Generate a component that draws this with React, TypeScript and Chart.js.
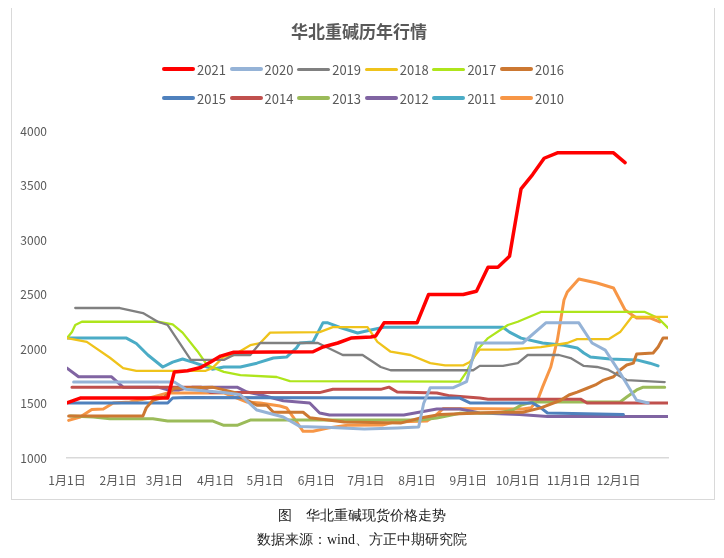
import React, { useEffect, useRef } from "react";
import { Chart, registerables } from "chart.js";

Chart.register(...registerables);

const FONT = '"Noto Sans CJK SC", "Noto Sans", sans-serif';
const TEXT_COLOR = "#595959";

const monthTicks = [0, 31, 59, 90, 120, 151, 181, 212, 243, 273, 304, 334];
const monthLabels = ["1月1日", "2月1日", "3月1日", "4月1日", "5月1日", "6月1日", "7月1日", "8月1日", "9月1日", "10月1日", "11月1日", "12月1日"];

const seriesNames = ["2021", "2020", "2019", "2018", "2017", "2016", "2015", "2014", "2013", "2012", "2011", "2010"];
const seriesColors = ["#FF0000", "#95B3D7", "#808080", "#EFC31B", "#AEE51C", "#CC7832", "#4F81BD", "#C0504D", "#9BBB59", "#8064A2", "#4BACC6", "#F79646"];
const seriesWidths = [3.5, 3, 2.3, 2.3, 2.3, 3, 3, 3, 3, 3, 3, 3];

// [day of year, price]
const y2021 = [[0,1505],[8,1550],[61,1550],[65,1790],[73,1800],[81,1830],[87,1880],[93,1935],[101,1970],[149,1975],[155,2018],[164,2055],[172,2100],[184,2110],[187,2120],[192,2240],[212,2240],[219,2500],[240,2500],[248,2530],[255,2750],[261,2750],[268,2850],[275,3470],[282,3600],[289,3750],[297,3800],[331,3800],[338,3710]];
const y2020 = [[4,1697],[65,1697],[72,1630],[95,1600],[105,1580],[115,1440],[131,1376],[141,1290],[160,1280],[180,1265],[200,1275],[213,1285],[216,1500],[220,1645],[234,1645],[242,1700],[248,2055],[276,2055],[290,2240],[310,2240],[318,2055],[326,1990],[335,1780],[345,1530],[352,1505]];
const y2019 = [[5,2376],[32,2376],[46,2330],[55,2250],[61,2220],[75,1900],[95,1900],[101,1945],[111,1945],[117,2055],[152,2055],[167,1945],[179,1945],[190,1835],[196,1805],[246,1805],[250,1845],[264,1845],[273,1870],[279,1945],[298,1945],[305,1917],[313,1845],[321,1835],[328,1808],[339,1715],[362,1697]];
const y2018 = [[0,2100],[12,2065],[26,1920],[34,1825],[42,1800],[84,1800],[88,1825],[95,1930],[101,1945],[111,2035],[117,2055],[123,2150],[153,2155],[161,2200],[182,2200],[188,2065],[196,1975],[208,1945],[220,1870],[229,1850],[240,1850],[244,1880],[250,1995],[267,1995],[287,2018],[303,2055],[309,2090],[328,2090],[335,2155],[342,2294],[364,2294]];
const y2017 = [[0,2100],[3,2155],[5,2220],[9,2250],[55,2250],[64,2225],[70,2150],[79,1980],[85,1850],[95,1790],[105,1760],[127,1743],[135,1706],[238,1700],[242,1790],[249,2000],[255,2100],[267,2220],[273,2250],[287,2340],[350,2340],[358,2285],[364,2193]];
const y2016 = [[1,1385],[46,1385],[48,1460],[52,1530],[59,1560],[65,1640],[88,1650],[102,1600],[109,1530],[115,1485],[121,1485],[125,1420],[143,1420],[147,1370],[168,1330],[202,1320],[214,1367],[226,1400],[262,1420],[276,1420],[287,1460],[299,1530],[304,1578],[309,1605],[315,1640],[320,1670],[325,1715],[331,1745],[335,1808],[339,1853],[343,1870],[345,1954],[355,1963],[358,2018],[361,2100],[364,2100]];
const y2015 = [[1,1505],[61,1505],[64,1550],[72,1555],[238,1550],[244,1505],[282,1505],[287,1460],[291,1413],[337,1400]];
const y2014 = [[3,1650],[81,1650],[87,1600],[153,1600],[161,1630],[190,1630],[195,1650],[200,1605],[224,1597],[232,1570],[250,1550],[255,1540],[311,1540],[315,1505],[364,1505]];
const y2013 = [[2,1385],[16,1376],[26,1360],[52,1360],[61,1340],[88,1340],[95,1300],[103,1300],[111,1348],[214,1348],[224,1367],[238,1410],[256,1413],[262,1415],[270,1440],[275,1485],[282,1514],[335,1514],[339,1560],[345,1624],[349,1650],[362,1650]];
const y2012 = [[0,1825],[7,1745],[27,1745],[34,1650],[55,1650],[61,1625],[68,1625],[76,1650],[103,1650],[109,1605],[117,1580],[131,1525],[147,1505],[153,1413],[159,1395],[204,1395],[214,1422],[224,1450],[238,1450],[250,1413],[274,1400],[291,1380],[364,1380]];
const y2011 = [[0,2100],[36,2100],[42,2050],[49,1945],[58,1835],[64,1880],[70,1908],[76,1880],[85,1835],[88,1815],[95,1835],[105,1835],[115,1870],[125,1917],[133,1926],[139,2010],[141,2055],[149,2065],[155,2240],[158,2240],[165,2200],[176,2147],[184,2175],[192,2200],[264,2200],[268,2155],[275,2100],[288,2055],[301,2035],[309,2010],[313,1963],[317,1926],[329,1908],[345,1900],[353,1870],[358,1845]];
const y2010 = [[1,1345],[8,1376],[15,1445],[22,1450],[28,1505],[38,1514],[50,1550],[61,1597],[95,1597],[101,1560],[109,1514],[117,1505],[129,1477],[133,1459],[137,1376],[143,1245],[149,1245],[158,1275],[170,1300],[191,1303],[198,1330],[218,1340],[224,1400],[228,1455],[276,1450],[281,1460],[285,1530],[288,1650],[293,1835],[297,2083],[301,2450],[303,2523],[310,2642],[321,2605],[331,2560],[338,2358],[345,2285],[353,2285],[359,2248]];

const seriesData = [y2021, y2020, y2019, y2018, y2017, y2016, y2015, y2014, y2013, y2012, y2011, y2010];

export default function App() {
  const ref = useRef<HTMLCanvasElement>(null);

  useEffect(() => {
    const datasets = seriesNames.map((name, i) => ({
      label: name,
      data: seriesData[i].map(([x, y]) => ({ x, y })),
      borderColor: seriesColors[i],
      backgroundColor: seriesColors[i],
      borderWidth: seriesWidths[i],
      pointRadius: 0,
      pointHoverRadius: 0,
      tension: 0,
      fill: false,
      borderJoinStyle: "round" as const,
      borderCapStyle: "round" as const,
    }));
    const chart = new Chart(ref.current!, {
      type: "line",
      data: { datasets },
      options: {
        responsive: false,
        animation: false,
        layout: { padding: { left: 0, right: 46, top: 123, bottom: 0 } },
        plugins: {
          legend: { display: false },
          tooltip: { enabled: false },
          title: { display: false },
        },
        scales: {
          x: {
            type: "linear",
            min: 0,
            max: 364,
            grid: { display: false, drawTicks: false },
            border: { display: true, color: "#D9D9D9", width: 1.5 },
            ticks: {
              autoSkip: false,
              maxRotation: 0,
              padding: 15,
              color: TEXT_COLOR,
              font: { size: 12, family: FONT },
              callback: (_v: any, i: number) => monthLabels[i],
            },
            afterBuildTicks: (s: any) => {
              s.ticks = monthTicks.map((v) => ({ value: v }));
            },
            afterFit: (s: any) => {
              s.height = 41;
            },
          },
          y: {
            min: 1000,
            max: 4000,
            grid: { display: false, drawTicks: false },
            border: { display: false },
            ticks: {
              stepSize: 500,
              padding: 20,
              color: TEXT_COLOR,
              font: { size: 12, family: FONT },
              callback: (v: any) => String(v),
            },
            afterFit: (s: any) => {
              s.width = 55;
            },
          },
        },
      } as any,
    });
    return () => chart.destroy();
  }, []);

  return (
    <div style={{ position: "relative", width: 708, height: 542 }}>
      <div style={{ position: "absolute", left: 4, top: 0, width: 702, height: 491 }}>
        <canvas ref={ref} width={702} height={491} style={{ display: "block" }} />
      </div>
      <div
        style={{
          position: "absolute",
          left: 3,
          top: -1,
          width: 704,
          height: 493,
          boxSizing: "border-box",
          border: "1px solid #D9D9D9",
          pointerEvents: "none",
        }}
      />
      <div
        style={{
          position: "absolute",
          left: 0,
          top: 12,
          width: 702,
          textAlign: "center",
          fontFamily: FONT,
          fontSize: 17,
          fontWeight: "bold",
          color: TEXT_COLOR,
          lineHeight: "22px",
        }}
      >
        华北重碱历年行情
      </div>
      {seriesNames.map((name, i) => {
        const row = Math.floor(i / 6);
        const col = i % 6;
        return (
          <div
            key={name}
            style={{
              position: "absolute",
              left: 154 + col * 67.6,
              top: 52 + row * 29,
              height: 18,
              display: "flex",
              alignItems: "center",
              fontFamily: FONT,
              fontSize: 13,
              color: TEXT_COLOR,
              whiteSpace: "nowrap",
            }}
          >
            <span
              style={{
                display: "inline-block",
                width: 33,
                height: seriesWidths[i] < 3 ? 3 : 4,
                borderRadius: 2,
                background: seriesColors[i],
                marginRight: 2,
              }}
            />
            <span>{name}</span>
          </div>
        );
      })}
      <div
        style={{
          position: "absolute",
          left: 0,
          top: 499,
          width: 708,
          textAlign: "center",
          fontFamily: "serif",
          fontSize: 14,
          color: "#222",
          lineHeight: "18px",
        }}
      >
        图　华北重碱现货价格走势
      </div>
      <div
        style={{
          position: "absolute",
          left: 0,
          top: 523,
          width: 708,
          textAlign: "center",
          fontFamily: "serif",
          fontSize: 14,
          color: "#222",
          lineHeight: "18px",
        }}
      >
        数据来源：wind、方正中期研究院
      </div>
    </div>
  );
}
